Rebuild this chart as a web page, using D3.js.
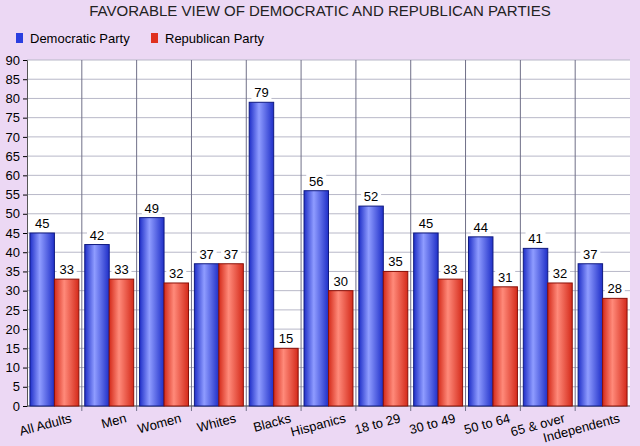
<!DOCTYPE html>
<html><head><meta charset="utf-8">
<script src="https://cdn.jsdelivr.net/npm/d3@7"></script>
<style>
body{margin:0;background:#ecd8f4;}
text{font-family:"Liberation Sans",Arial,sans-serif;}
</style></head>
<body><svg id="chart" width="640" height="446"></svg>
<script>
var categories = ["All Adults","Men","Women","Whites","Blacks","Hispanics","18 to 29","30 to 49","50 to 64","65 & over","Independents"];
var democratic = [45,42,49,37,79,56,52,45,44,41,37];
var republican = [33,33,32,37,15,30,35,33,31,32,28];
var seriesNames = ["Democratic Party","Republican Party"];
var yTicks = d3.range(0, 91, 5);

var svg = d3.select("#chart");
var margin = {top: 60, right: 10, bottom: 40, left: 27};
var width = 640 - margin.left - margin.right, height = 446 - margin.top - margin.bottom;

svg.append("rect").attr("width",640).attr("height",446).attr("fill","#ecd8f4");

var defs = svg.append("defs");
function grad(id, edge, light) {
    var g = defs.append("linearGradient").attr("id", id).attr("x1","0").attr("x2","1").attr("y1","0").attr("y2","0");
    g.append("stop").attr("offset","0%").attr("stop-color", edge);
    g.append("stop").attr("offset","40%").attr("stop-color", light);
    g.append("stop").attr("offset","100%").attr("stop-color", edge);
}
grad("gBlue", "#1f2fc8", "#8f9cff");
grad("gRed", "#d42a1a", "#ff8a7a");
var fills = ["url(#gBlue)","url(#gRed)"], strokes = ["#101a80","#8a1008"], legendCol = ["#2a3ee0","#e0301f"];

var g = svg.append("g").attr("transform","translate("+margin.left+","+margin.top+")");

var x = d3.scaleBand().domain(categories).range([0, width]);
var xs = d3.scaleBand().domain([0,1]).range([0, x.bandwidth()]).paddingOuter(0.12).paddingInner(0);
var y = d3.scaleLinear().domain([0, 90]).range([height, 0]);

g.append("rect").attr("width",width).attr("height",height).attr("fill","#fff");

g.selectAll(".hg").data(yTicks).enter().append("line")
    .attr("x1",0).attr("x2",width).attr("y1",y).attr("y2",y)
    .attr("stroke","#b8b8c8").attr("stroke-width",1);
g.selectAll(".vg").data(categories.slice(1)).enter().append("line")
    .attr("x1",function(d){return x(d);}).attr("x2",function(d){return x(d);})
    .attr("y1",0).attr("y2",height+5).attr("stroke","#707088");

var yAxis = g.append("g").call(d3.axisLeft(y).tickValues(yTicks).tickSize(4));
yAxis.select(".domain").attr("stroke","#555");
yAxis.selectAll("text").attr("font-size",13).attr("fill","#000");
g.append("line").attr("x1",0).attr("x2",width).attr("y1",height).attr("y2",height).attr("stroke","#555");

var rows = categories.map(function(c,i){ return {cat:c, vals:[democratic[i], republican[i]]}; });
var grp = g.selectAll(".grp").data(rows).enter().append("g")
    .attr("transform", function(d){ return "translate("+x(d.cat)+",0)"; });

grp.selectAll("rect").data(function(d){ return d.vals; }).enter().append("rect")
    .attr("x", function(d,i){ return xs(i); })
    .attr("width", xs.bandwidth())
    .attr("y", function(d){ return y(d); })
    .attr("height", function(d){ return height - y(d); })
    .attr("fill", function(d,i){ return fills[i]; })
    .attr("stroke", function(d,i){ return strokes[i]; }).attr("stroke-width",1);

grp.selectAll(".lbl").data(function(d){ return d.vals; }).enter().append("g")
    .attr("transform", function(d,i){ return "translate("+(xs(i)+xs.bandwidth()/2)+","+(y(d)-3)+")"; })
    .each(function(d){
        var s = d3.select(this);
        s.append("rect").attr("x",-10).attr("y",-14).attr("width",20).attr("height",14).attr("fill","#fff");
        s.append("text").attr("text-anchor","middle").attr("y",-2).attr("font-size",13).text(d);
    });

g.selectAll(".xl").data(categories).enter().append("text")
    .attr("text-anchor","end").attr("font-size",13)
    .attr("transform", function(d){ return "translate("+(x(d)+x.bandwidth()/2+18)+","+(height+16)+") rotate(-15)"; })
    .text(function(d){ return d; });

svg.append("text").attr("x",320).attr("y",16).attr("text-anchor","middle")
    .attr("font-size",15).attr("fill","#222").text("FAVORABLE VIEW OF DEMOCRATIC AND REPUBLICAN PARTIES");

var leg = svg.selectAll(".leg").data(seriesNames).enter().append("g")
    .attr("transform", function(d,i){ return "translate("+(16+i*135)+",33)"; });
leg.append("rect").attr("width",7).attr("height",10).attr("fill",function(d,i){return legendCol[i];});
leg.append("text").attr("x",14).attr("y",10).attr("font-size",13).text(function(d){return d;});
</script></body></html>
